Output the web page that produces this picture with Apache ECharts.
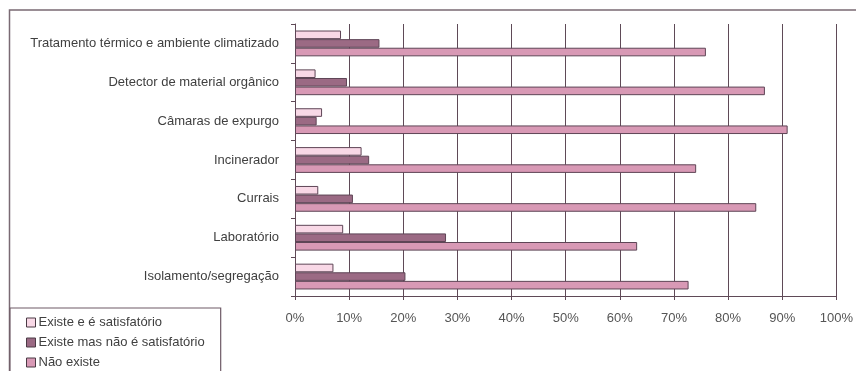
<!DOCTYPE html>
<html>
<head>
<meta charset="utf-8">
<script src="https://cdn.jsdelivr.net/npm/echarts@6/dist/echarts.min.js"></script>
<style>
html,body{margin:0;padding:0;background:#fff;}
#chart{width:856px;height:371px;}
</style>
</head>
<body>
<div id="chart"></div>
<script>
var categories = [
  "Tratamento térmico e ambiente climatizado",
  "Detector de material orgânico",
  "Câmaras de expurgo",
  "Incinerador",
  "Currais",
  "Laboratório",
  "Isolamento/segregação"
];
var seriesNames = ["Existe e é satisfatório", "Existe mas não é satisfatório", "Não existe"];
var existeSatisfatorio = [8.5, 3.8, 5.0, 12.3, 4.3, 8.9, 7.1];
var existeNaoSatisfatorio = [15.6, 9.6, 4.0, 13.7, 10.7, 27.9, 20.4];
var naoExiste = [75.9, 86.8, 91.0, 74.1, 85.2, 63.2, 72.7];
var xTicks = [0, 10, 20, 30, 40, 50, 60, 70, 80, 90, 100];

var colors = ["#F8D8E6", "#9B6A84", "#D899B5"];
var font = "Liberation Sans, Arial, sans-serif";
var lineCol = "#5f4a57";

var chart = echarts.init(document.getElementById('chart'), null, {renderer: 'canvas'});
var dataSets = [existeSatisfatorio, existeNaoSatisfatorio, naoExiste];
var option = {
  animation: false,
  backgroundColor: '#fff',
  textStyle: {fontFamily: font},
  graphic: [{
    type: 'rect', z: 0,
    shape: {x: 9.5, y: 10, width: 900, height: 400},
    style: {fill: 'none', stroke: '#7a6a73', lineWidth: 1.5}
  }],
  grid: {left: 295, top: 24, width: 544, height: 272, containLabel: false},
  legend: {
    orient: 'vertical', left: 10, top: 308, height: 90,
    data: seriesNames,
    itemWidth: 9, itemHeight: 9, itemGap: 7,
    padding: [8, 16, 10, 16],
    borderColor: '#6e5a66', borderWidth: 1.2,
    backgroundColor: '#fff',
    textStyle: {fontFamily: font, fontSize: 13, color: '#404040', padding: [0,0,0,-2]},
    itemStyle: {borderColor: '#4a3a44', borderWidth: 1},
    icon: 'rect', z: 10
  },
  xAxis: {
    type: 'value', min: 0, max: 100, interval: 10,
    axisLine: {show: true, lineStyle: {color: lineCol, width: 1}},
    axisTick: {show: true, length: 4, lineStyle: {color: lineCol}},
    axisLabel: {formatter: '{value}%', margin: 16, fontSize: 13, color: '#555', fontFamily: font},
    splitLine: {show: true, lineStyle: {color: lineCol, width: 1}}
  },
  yAxis: {
    type: 'category', data: categories, inverse: true,
    axisLine: {show: true, lineStyle: {color: lineCol, width: 1}},
    axisTick: {show: true, length: 4, lineStyle: {color: lineCol}},
    axisLabel: {margin: 16, fontSize: 13, color: '#404040', fontFamily: font},
    splitLine: {show: false}
  },
  series: seriesNames.map(function (n, i) {
    return {
      name: n, type: 'bar', data: dataSets[i],
      barWidth: 8.6, barGap: '0%',
      itemStyle: {color: colors[i], borderColor: '#5e4556', borderWidth: 1}
    };
  })
};
chart.setOption(option);
</script>
</body>
</html>
